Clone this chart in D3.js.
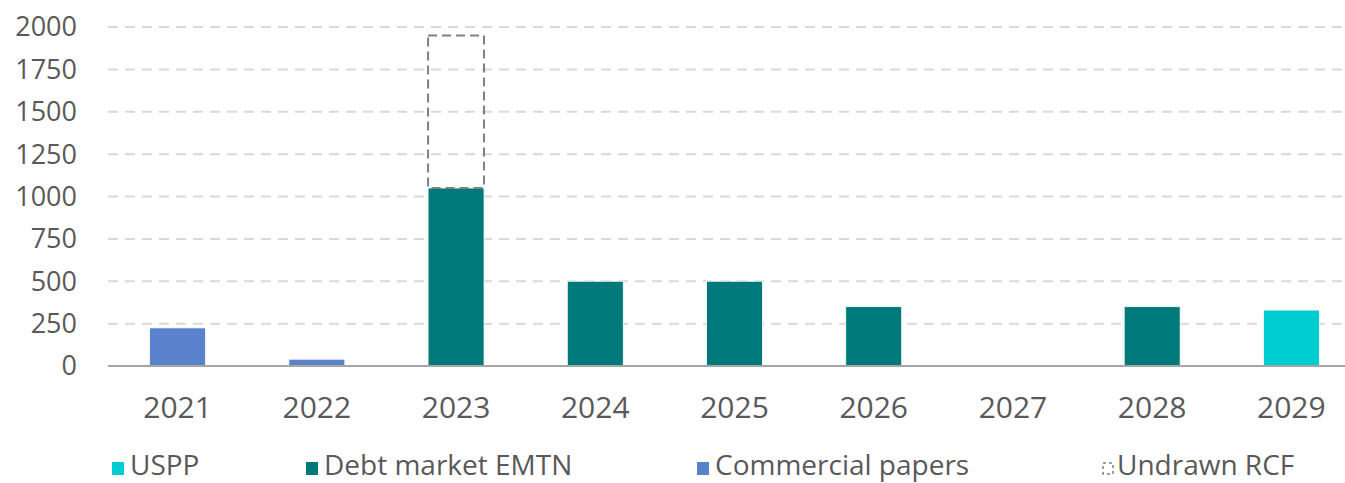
<!DOCTYPE html>
<html>
<head>
<meta charset="utf-8">
<script src="https://cdn.jsdelivr.net/npm/d3@7"></script>
<style>
  body { margin: 0; background: #fff; overflow: hidden; }
  svg { display: block; font-family: "Open Sans", "DejaVu Sans", sans-serif; }
</style>
</head>
<body>
<div id="chart"></div>
<script>
// chart data
const years = ["2021", "2022", "2023", "2024", "2025", "2026", "2027", "2028", "2029"];
const uspp = [0, 0, 0, 0, 0, 0, 0, 0, 330];
const debtEmtn = [0, 0, 1050, 500, 500, 350, 0, 350, 0];
const commercialPapers = [225, 40, 0, 0, 0, 0, 0, 0, 0];
const undrawnRcf = [0, 0, 900, 0, 0, 0, 0, 0, 0];
const yTicks = [0, 250, 500, 750, 1000, 1250, 1500, 1750, 2000];

const seriesNames = ["USPP", "Debt market EMTN", "Commercial papers", "Undrawn RCF"];
const colors = ["#00CDD2", "#00797A", "#5A81CC", "none"];

const width = 1345, height = 483;
const margin = { top: 27, bottom: 117, left: 108 };

const svg = d3.select("#chart").append("svg")
  .attr("width", width)
  .attr("height", height);

// the plot runs a bit past the right edge, like the original
const x = d3.scaleBand()
  .domain(years)
  .range([margin.left, 1361])
  .paddingInner(0.598)
  .paddingOuter(0.299);

const y = d3.scaleLinear()
  .domain([0, 2000])
  .range([height - margin.bottom, margin.top]);

// gridlines
svg.append("g")
  .selectAll("line")
  .data(yTicks.filter(d => d > 0))
  .join("line")
  .attr("x1", margin.left)
  .attr("x2", width)
  .attr("y1", d => y(d))
  .attr("y2", d => y(d))
  .attr("stroke", "#D9D9D9")
  .attr("stroke-width", 2)
  .attr("stroke-dasharray", "10,7");

// y labels
svg.append("g")
  .selectAll("text")
  .data(yTicks)
  .join("text")
  .attr("x", 77)
  .attr("y", d => y(d))
  .attr("dy", "0.35em")
  .attr("text-anchor", "end")
  .attr("fill", "#595959")
  .attr("font-size", 27)
  .text(d => d);

// stack the values
const rows = years.map((yr, i) => ({
  year: yr,
  "USPP": uspp[i],
  "Debt market EMTN": debtEmtn[i],
  "Commercial papers": commercialPapers[i],
  "Undrawn RCF": undrawnRcf[i]
}));
const stacked = d3.stack().keys(seriesNames)(rows);

stacked.forEach((layer, li) => {
  const isRcf = seriesNames[li] === "Undrawn RCF";
  svg.append("g")
    .selectAll("rect")
    .data(layer.filter(d => d[1] - d[0] > 0))
    .join("rect")
    .attr("x", d => x(d.data.year))
    .attr("width", x.bandwidth())
    .attr("y", d => y(d[1]))
    .attr("height", d => y(d[0]) - y(d[1]))
    .attr("fill", isRcf ? "none" : colors[li])
    .attr("stroke", isRcf ? "#808080" : "#fff")
    .attr("stroke-width", isRcf ? 2 : 0.8)
    .attr("stroke-dasharray", isRcf ? "9,5" : null);
});

// x axis line
svg.append("line")
  .attr("x1", margin.left)
  .attr("x2", width)
  .attr("y1", y(0))
  .attr("y2", y(0))
  .attr("stroke", "#A6A6A6")
  .attr("stroke-width", 2);

// x labels
svg.append("g")
  .selectAll("text")
  .data(years)
  .join("text")
  .attr("x", d => x(d) + x.bandwidth() / 2)
  .attr("y", 407)
  .attr("dy", "0.35em")
  .attr("text-anchor", "middle")
  .attr("fill", "#595959")
  .attr("font-size", 30)
  .text(d => d);

// legend
const legendX = [112, 306, 697, 1102];
const legend = svg.append("g");
seriesNames.forEach((name, i) => {
  const g = legend.append("g").attr("transform", `translate(${legendX[i]},462)`);
  if (colors[i] === "none") {
    g.append("rect")
      .attr("x", 1).attr("y", 1).attr("width", 10).attr("height", 11)
      .attr("fill", "none")
      .attr("stroke", "#808080")
      .attr("stroke-width", 1.5)
      .attr("stroke-dasharray", "3,3");
  } else {
    g.append("rect")
      .attr("width", 12).attr("height", 13)
      .attr("fill", colors[i]);
  }
  g.append("text")
    .attr("x", colors[i] === "none" ? 15 : 18)
    .attr("y", 13)
    .attr("fill", "#595959")
    .attr("font-size", 28)
    .text(name);
});
</script>
</body>
</html>
